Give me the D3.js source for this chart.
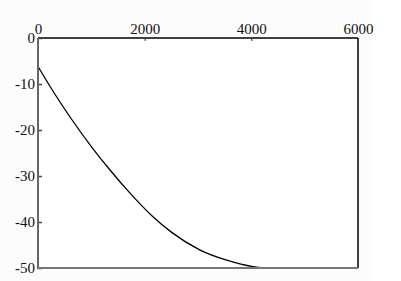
<!DOCTYPE html>
<html>

<head>
    <meta charset="utf-8">
    <script src="https://cdn.jsdelivr.net/npm/d3@7"></script>
    <style>
        body { margin: 0; background: #fff; }
        text { font-family: "Liberation Serif", "DejaVu Serif", serif; font-size: 15px; fill: #111; }
    </style>
</head>

<body>
    <div id="chart"></div>
    <script>
        // values
        const xValues = [0, 300, 620, 1000, 1350, 1700, 2150, 2500, 3040, 3540, 4030, 4250];
        const yValues = [-6.2, -11.9, -17.5, -23.6, -28.7, -33.4, -38.8, -42.2, -46.1, -48.3, -49.7, -50];
        const xTicks = [0, 2000, 4000, 6000];
        const yTicks = [0, -10, -20, -30, -40, -50];

        const width = 401, height = 281;
        const plotLeft = 38, plotRight = 358, plotTop = 38, plotBottom = 268;

        let svg = d3.select("#chart").append("svg").attr("width", width).attr("height", height);

        svg.append("rect").attr("width", 373).attr("height", height).attr("fill", "#fcfcfc");

        let x = d3.scaleLinear().domain([0, 6000]).range([plotLeft, plotRight]);
        let y = d3.scaleLinear().domain([-50, 0]).range([plotBottom, plotTop]);

        svg.append("rect")
            .attr("x", plotLeft).attr("y", plotTop)
            .attr("width", plotRight - plotLeft).attr("height", plotBottom - plotTop)
            .attr("fill", "#fff");

        // curve
        let line = d3.line()
            .x((d, i) => x(xValues[i]))
            .y(d => y(d))
            .curve(d3.curveMonotoneX);
        svg.append("path")
            .datum(yValues)
            .attr("d", line)
            .attr("fill", "none")
            .attr("stroke", "#000")
            .attr("stroke-width", 1.3);

        // frame: top and right black, left and bottom grey
        svg.append("line").attr("x1", plotLeft).attr("x2", plotRight).attr("y1", plotTop).attr("y2", plotTop)
            .attr("stroke", "#000").attr("stroke-width", 1.5);
        svg.append("line").attr("x1", plotRight).attr("x2", plotRight).attr("y1", plotTop).attr("y2", plotBottom)
            .attr("stroke", "#000").attr("stroke-width", 1.5);

        let topAxis = svg.append("g")
            .attr("transform", `translate(0,${plotTop})`)
            .call(d3.axisTop(x).tickValues(xTicks).tickFormat(d => String(d)).tickSizeInner(-3).tickSizeOuter(0).tickPadding(4));
        topAxis.select(".domain").remove();
        topAxis.selectAll("line").attr("stroke", "#333");
        topAxis.selectAll("text").attr("font-size", null).attr("font-family", null);

        let leftAxis = svg.append("g")
            .attr("transform", `translate(${plotLeft},0)`)
            .call(d3.axisLeft(y).tickValues(yTicks).tickFormat(d => String(d)).tickSizeInner(-4).tickSizeOuter(0).tickPadding(3));
        leftAxis.select(".domain").remove();
        leftAxis.selectAll("line").attr("stroke", "#444").attr("stroke-width", 1.5);
        leftAxis.selectAll("text").attr("font-size", null).attr("font-family", null);

        svg.append("line").attr("x1", plotLeft).attr("x2", plotLeft).attr("y1", plotTop).attr("y2", plotBottom + 1)
            .attr("stroke", "#666").attr("stroke-width", 2);
        svg.append("line").attr("x1", plotLeft).attr("x2", plotRight).attr("y1", plotBottom).attr("y2", plotBottom)
            .attr("stroke", "#777").attr("stroke-width", 2);
    </script>
</body>

</html>
